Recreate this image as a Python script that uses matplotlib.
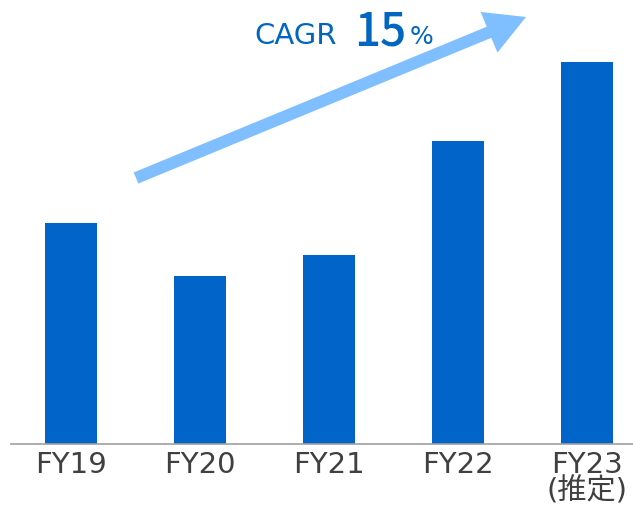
import numpy as np
import matplotlib
matplotlib.use('Agg')
import matplotlib.pyplot as plt
from matplotlib.patches import FancyArrow
from matplotlib.transforms import IdentityTransform

# DATA #

labels = ['FY19', 'FY20', 'FY21', 'FY22', 'FY23\n(推定)']
values = [221, 168, 189, 303, 382]
cagr_text = 'CAGR'
cagr_value = '15'

# STYLE #

plt.rcParams['font.family'] = ['DejaVu Sans', 'Noto Sans CJK JP']
bar_color = '#0064C8'
arrow_color = '#80BFFF'

W, H = 633, 516
fig = plt.figure(figsize=(W / 100, H / 100), dpi=100)
ax = fig.add_axes([11 / W, 72 / H, 622 / W, 444 / H])

x = np.arange(len(values))
ax.bar(x, values, width=0.403, color=bar_color, zorder=2)

ax.set_xlim(-0.465, 4.357)
ax.set_ylim(0, 444)
ax.set_xticks(x)
ax.set_xticklabels(labels, fontsize=21, color='#404040', linespacing=0.9)
ax.tick_params(axis='x', length=0, pad=5)
ax.set_yticks([])
for s in ['top', 'right', 'left']:
    ax.spines[s].set_visible(False)
ax.spines['bottom'].set_color('#A0A0A0')
ax.spines['bottom'].set_linewidth(1.2)

# growth arrow (figure pixels, origin bottom-left)
x0, y0 = 136, H - 178
x1, y1 = 526, H - 17
arr = FancyArrow(x0, y0, x1 - x0, y1 - y0, width=12, head_width=44,
                 head_length=40, length_includes_head=True,
                 color=arrow_color, transform=IdentityTransform(), lw=0)
fig.patches.append(arr)

c = '#0066C0'
fig.text(254 / W, 1 - 44 / H, cagr_text, fontsize=21, color=c, va='baseline')
fig.text(354 / W, 1 - 45 / H, cagr_value, fontsize=33, color=c,
         fontweight='medium', family='Noto Sans CJK JP', va='baseline')
fig.text(410 / W, 1 - 44 / H, '%', fontsize=18, color=c, va='baseline')

fig.savefig('out.png', dpi=100)
